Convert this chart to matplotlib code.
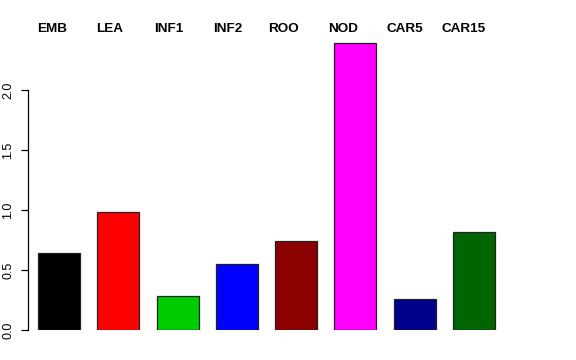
import matplotlib
matplotlib.use('Agg')
import matplotlib.pyplot as plt
import numpy as np

plt.rcParams['font.family'] = ['Liberation Sans', 'DejaVu Sans']

categories = ['EMB', 'LEA', 'INF1', 'INF2', 'ROO', 'NOD', 'CAR5', 'CAR15']
values = [0.64, 0.98, 0.283, 0.55, 0.74, 2.39, 0.258, 0.817]
colors = ['#000000', '#FF0000', '#00CD00', '#0000FF', '#8B0000', '#FF00FF', '#00008B', '#006400']
label_x = [0.49, 1.66, 2.86, 4.05, 5.18, 6.39, 7.63, 8.83]
yticks = [0.0, 0.5, 1.0, 1.5, 2.0]

# bar positions: evenly spaced, pitch 1.2
centers = 0.63 + 1.2 * np.arange(len(values))

fig = plt.figure(figsize=(5.76, 3.6), dpi=100)
ax = fig.add_axes([28 / 576, 30 / 360, 493.7 / 576, 294 / 360])

ax.bar(centers, values, width=0.85, color=colors, edgecolor='#222222', linewidth=0.9)

ax.set_xlim(0, 10)
ax.set_ylim(0, 2.45)

for s in ['top', 'right', 'bottom']:
    ax.spines[s].set_visible(False)
ax.spines['left'].set_bounds(0, 2)
ax.spines['left'].set_linewidth(0.9)
ax.set_xticks([])
ax.set_yticks(yticks)
ax.set_yticklabels(['%.1f' % t for t in yticks])
ax.tick_params(axis='y', length=5, width=0.9, pad=5, labelsize=9, labelrotation=90)
for lab in ax.get_yticklabels():
    lab.set_va('center')

for x, name in zip(label_x, categories):
    ax.text(x, (330 - 29) / 120, name, ha='center', va='center',
            fontsize=9.7, fontweight='bold', clip_on=False)

fig.savefig('out.png', dpi=100)
